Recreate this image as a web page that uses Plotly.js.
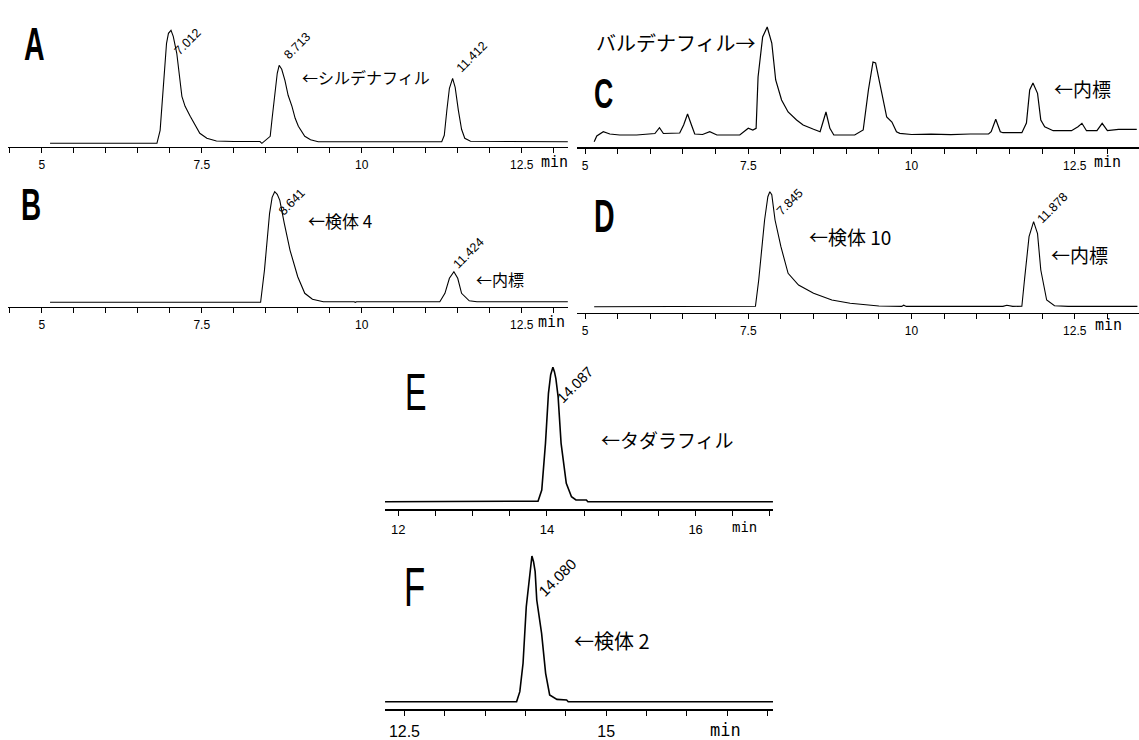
<!DOCTYPE html>
<html><head><meta charset="utf-8">
<script src="https://cdn.plot.ly/plotly-3.0.1.min.js"></script>
<style>html,body{margin:0;padding:0;background:#fff}#chart{width:1139px;height:740px}</style>
</head><body><div id="chart"></div>
<script>
// ---------------- DATA (retention time in min, detector signal in arbitrary units) ----------------
const A_time   = [5.13, 6.80, 6.85, 6.90, 6.95, 6.98, 7.02, 7.055, 7.11, 7.19, 7.24, 7.32, 7.47, 7.58, 7.73, 8.00, 8.41, 8.44, 8.50, 8.57, 8.60, 8.64, 8.68, 8.71, 8.75, 8.80, 8.85, 8.91, 8.96, 9.01, 9.11, 9.20, 9.32, 11.25, 11.29, 11.33, 11.37, 11.42, 11.46, 11.51, 11.56, 11.61, 11.70, 13.22];
const A_signal = [0, 0, 13, 57, 100, 110, 113, 107, 90, 47, 37, 27, 10, 5, 2.3, 1.8, 1.8, 0, 3, 7, 25, 50, 70, 78, 74, 63, 48, 37, 25, 17, 7, 3.5, 1.6, 1.6, 8, 33, 55, 65, 56, 33, 14, 5, 2, 1.6];
const A_rt     = ['7.012', '8.713', '11.412'];

const B_time   = [5.13, 8.42, 8.48, 8.52, 8.56, 8.60, 8.64, 8.68, 8.72, 8.79, 8.88, 9.00, 9.11, 9.23, 9.40, 9.88, 9.90, 9.92, 11.22, 11.30, 11.37, 11.44, 11.50, 11.56, 11.68, 11.80, 13.22];
const B_signal = [0, 0, 32, 60, 89, 105, 110.6, 108, 102, 79, 52, 25.6, 9, 3, 0.6, 0.6, 0, 0.6, 0.6, 9, 24, 30.6, 24, 9, 1.5, 0.6, 0.6];
const B_rt     = ['8.641', '11.424'];

const C_time   = [5.14, 5.18, 5.28, 5.38, 5.53, 5.79, 6.07, 6.14, 6.20, 6.45, 6.51, 6.57, 6.63, 6.68, 6.80, 6.91, 7.02, 7.37, 7.50, 7.57, 7.62, 7.65, 7.72, 7.79, 7.86, 7.92, 8.01, 8.11, 8.24, 8.34, 8.50, 8.60, 8.64, 8.69, 8.75, 8.81, 9.13, 9.26, 9.34, 9.41, 9.45, 9.53, 9.62, 9.70, 9.77, 9.82, 10.0, 10.3, 10.6, 10.9, 11.18, 11.22, 11.29, 11.36, 11.40, 11.69, 11.76, 11.81, 11.86, 11.93, 11.98, 12.04, 12.17, 12.45, 12.55, 12.61, 12.68, 12.84, 12.92, 13.00, 13.17, 13.45];
const C_signal = [-6.7, -1, 3.3, 1, 0, 0, 1.5, 7.3, 1.5, 2, 10, 21, 10, 1, 0.5, 3.3, 0, 0, 6.7, 5, 6.7, 58, 98, 108, 92, 55, 35, 23, 15, 10, 5.7, 3.3, 12, 23, 6.7, 0, 0, 5, 45, 73, 72, 45, 18, 13, 3.3, 1.7, 0.5, 0.8, 0.3, 1, 1, 3.3, 15.7, 3.3, 2.3, 2.3, 12, 45, 52, 41.7, 15, 8.3, 4.3, 4.3, 8.3, 11.7, 4.3, 4.3, 11.7, 4.3, 5.7, 5.7];

const D_time   = [5.14, 7.61, 7.66, 7.70, 7.75, 7.80, 7.83, 7.86, 7.91, 8.00, 8.11, 8.27, 8.50, 8.78, 9.06, 9.50, 9.85, 9.88, 9.92, 11.40, 11.46, 11.55, 11.69, 11.73, 11.80, 11.87, 11.93, 11.98, 12.07, 12.19, 12.40, 13.46];
const D_signal = [0, 0.5, 26.7, 55, 86.7, 110, 115, 112, 86.7, 60, 33.4, 21.7, 13.4, 6.7, 3.4, 0.7, 0.3, 1.5, 0.3, 0.3, 1.5, 0.3, 0.5, 26.7, 70, 85, 73, 36.7, 6.7, 1, 0.3, 0.3];
const D_rt     = ['7.845', '11.878'];

const E_time   = [11.82, 13.88, 13.93, 13.98, 14.02, 14.05, 14.08, 14.10, 14.12, 14.15, 14.19, 14.26, 14.33, 14.39, 14.53, 14.55, 17.04];
const E_signal = [0, 0.5, 11.7, 58.4, 108.4, 127, 134.4, 130, 123, 105, 58.4, 18.4, 5, 1.7, 1.7, 0, 0];
const E_rt     = ['14.087'];

const F_time   = [12.26, 13.89, 13.93, 13.97, 14.01, 14.05, 14.08, 14.10, 14.12, 14.14, 14.20, 14.25, 14.30, 14.39, 14.51, 14.53, 17.07];
const F_signal = [0, 0, 10, 38.4, 95, 128.4, 145.7, 140, 130, 101.7, 68.4, 28.4, 6.7, 2.3, 1.7, 0, 0];
const F_rt     = ['14.080'];

const ABCD_ticklabels = [5, 7.5, 10, 12.5];
const E_ticklabels = [12, 14, 16];
const F_ticklabels = [12.5, 15];
const tickStep = 0.5;

// ---------------- LAYOUT ----------------
const W = 1139, H = 740;
const px = x => x / W, py = y => 1 - y / H;

const panels = [
  {name:'A', t:A_time, s:A_signal, rt:A_rt, labels:ABCD_ticklabels, box:{L:8,R:568,T:20,B:146.7,yb:143.3}, xr:[4.473,13.223], lw:1.1, axw:1.2, tfs:12, rtfs:12.5,
   rtShift:[[17,-11.5],[18,19],[19.5,21.5]], letter:{x:22,y:44,size:46,bold:true}, minLbl:{x:554,y:162,size:15}},
  {name:'B', t:B_time, s:B_signal, rt:B_rt, labels:ABCD_ticklabels, box:{L:8,R:568,T:180,B:306.7,yb:302.3}, xr:[4.473,13.223], lw:1.1, axw:1.2, tfs:12, rtfs:12.5,
   rtShift:[[17,-10],[16,18.5]], letter:{x:19,y:205,size:45,bold:true}, minLbl:{x:551,y:322,size:15}},
  {name:'C', t:C_time, s:C_signal, rt:[], labels:ABCD_ticklabels, box:{L:577,R:1139,T:20,B:147.3,yb:135}, xr:[4.877,13.484], lw:1.2, axw:1.2, tfs:12, rtfs:12,
   rtShift:[], letter:{x:592,y:93,size:43,bold:true}, minLbl:{x:1107,y:162,size:15}},
  {name:'D', t:D_time, s:D_signal, rt:D_rt, labels:ABCD_ticklabels, box:{L:577,R:1139,T:180,B:312.7,yb:306.7}, xr:[4.877,13.484], lw:1.1, axw:1.2, tfs:12, rtfs:12.5,
   rtShift:[[19,-10],[18.5,13.5]], letter:{x:592,y:216,size:46,bold:true}, minLbl:{x:1108,y:325,size:15}},
  {name:'E', t:E_time, s:E_signal, rt:E_rt, labels:E_ticklabels, box:{L:385,R:773,T:360,B:509,yb:501.7}, xr:[11.821,17.041], lw:1.6, axw:2, tfs:13, rtfs:14.5,
   rtShift:[[21.5,-17.7]], letter:{x:403,y:392,size:52,bold:false}, minLbl:{x:744,y:527,size:14}},
  {name:'F', t:F_time, s:F_signal, rt:F_rt, labels:F_ticklabels, box:{L:385,R:773,T:545,B:709,yb:701.7}, xr:[12.259,17.068], lw:1.6, axw:2, tfs:16, rtfs:15,
   rtShift:[[25,-21]], letter:{x:402,y:586,size:56,bold:false}, minLbl:{x:725,y:730,size:17}}
];

const compoundLabels = [
  {text:'←シルデナフィル', x:300, y:77, size:16},
  {text:'バルデナフィル→', x:594, y:43, size:20},
  {text:'←内標', x:1052, y:88, size:19},
  {text:'←検体 4', x:306, y:220, size:17},
  {text:'←内標', x:474, y:279, size:16},
  {text:'←検体 10', x:807, y:236, size:19},
  {text:'←内標', x:1049, y:255, size:19},
  {text:'←タダラフィル', x:599, y:439, size:19},
  {text:'←検体 2', x:572, y:640, size:20}
];

const traces = [];
const layout = {
  width: W, height: H, margin:{l:0,r:0,t:0,b:0},
  paper_bgcolor:'#fff', plot_bgcolor:'rgba(0,0,0,0)', showlegend:false,
  font:{family:'Liberation Sans, Arial, sans-serif', color:'#000'},
  annotations: []
};

panels.forEach((p, i) => {
  const n = i + 1, suf = n === 1 ? '' : String(n);
  traces.push({type:'scatter', mode:'lines', x:p.t, y:p.s, xaxis:'x'+suf, yaxis:'y'+suf,
    line:{color:'#000', width:p.lw}, hoverinfo:'skip', cliponaxis:false});
  const b = p.box;
  const tv = [], tt = [];
  for (let v = Math.ceil(p.xr[0]/tickStep)*tickStep; v <= p.xr[1] + 1e-9; v += tickStep) {
    const r = Math.round(v*100)/100;
    tv.push(r);
    tt.push(p.labels.some(l => Math.abs(l - r) < 1e-6) ? String(r) : '');
  }
  layout['xaxis'+suf] = {domain:[px(b.L), px(b.R)], range:p.xr, anchor:'y'+suf,
    showgrid:false, zeroline:false, showline:true, linecolor:'#000', linewidth:p.axw,
    ticks:'outside', ticklen:5, tickwidth:1, tickcolor:'#000', tickmode:'array', tickvals:tv, ticktext:tt,
    tickfont:{family:'Liberation Sans, Arial, sans-serif', size:p.tfs, color:'#000'}, ticklabelstandoff:2, fixedrange:true};
  layout['yaxis'+suf] = {domain:[py(b.B), py(b.T)], range:[-(b.B-b.yb), b.yb-b.T], anchor:'x'+suf, visible:false, fixedrange:true};

  // retention-time labels placed at each peak's apex
  p.rt.forEach((lbl, k) => {
    const rt = parseFloat(lbl);
    let best = -Infinity;
    p.t.forEach((tt2, j) => { if (Math.abs(tt2 - rt) < 0.08 && p.s[j] > best) best = p.s[j]; });
    layout.annotations.push({xref:'x'+suf, yref:'y'+suf, x:rt, y:best, text:lbl, showarrow:false,
      textangle:-45, xanchor:'center', yanchor:'middle', xshift:p.rtShift[k][0], yshift:p.rtShift[k][1],
      font:{family:'Liberation Sans, Arial, sans-serif', size:p.rtfs, color:'#000'}});
  });
  // panel letter (condensed afterwards)
  layout.annotations.push({xref:'paper', yref:'paper', x:px(p.letter.x), y:py(p.letter.y), text:p.letter.bold ? '<b>'+p.name+'</b>' : p.name,
    showarrow:false, xanchor:'left', yanchor:'middle', name:'panel-letter',
    font:{family:'Liberation Sans, Arial, sans-serif', size:p.letter.size, color:'#000'}});
  // "min" unit label
  layout.annotations.push({xref:'paper', yref:'paper', x:px(p.minLbl.x), y:py(p.minLbl.y), text:'min', showarrow:false,
    xanchor:'center', yanchor:'middle', font:{family:'DejaVu Sans Mono, monospace', size:p.minLbl.size, color:'#000'}});
});

compoundLabels.forEach(c => {
  layout.annotations.push({xref:'paper', yref:'paper', x:px(c.x), y:py(c.y), text:c.text, showarrow:false,
    xanchor:'left', yanchor:'middle', font:{family:'Noto Sans CJK JP, sans-serif', size:c.size, color:'#000'}});
});

function condenseLetters() {
  const letters = new Set(panels.map(p => p.name));
  document.querySelectorAll('#chart g.annotation text.annotation-text').forEach(el => {
    if (letters.has(el.textContent.trim())) {
      el.style.transformBox = 'fill-box';
      el.style.transformOrigin = 'left center';
      el.style.transform = 'scaleX(0.62)';
    }
  });
}

Plotly.newPlot('chart', traces, layout, {staticPlot:true, displayModeBar:false}).then(condenseLetters);
</script>
</body></html>
